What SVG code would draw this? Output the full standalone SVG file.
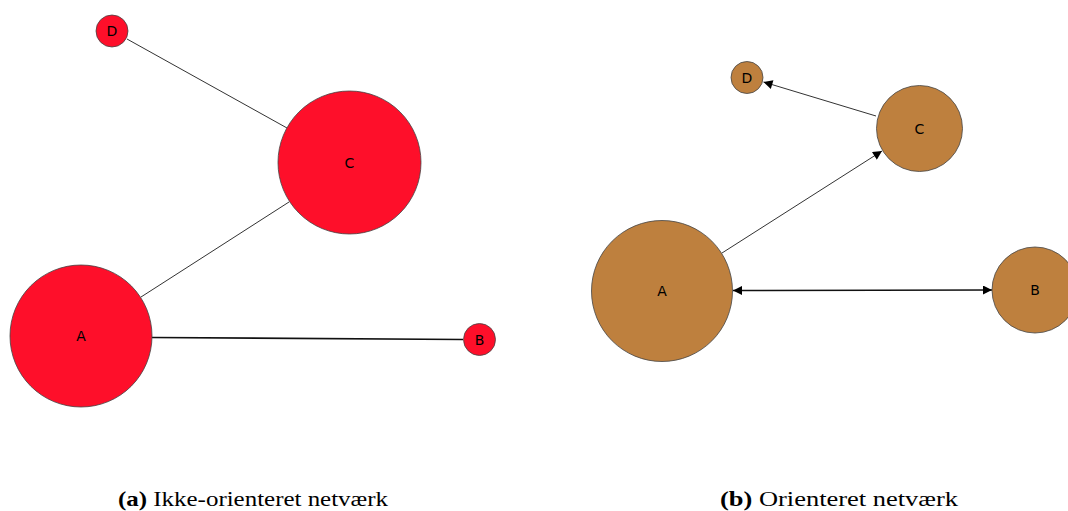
<svg xmlns="http://www.w3.org/2000/svg" width="1068" height="511" viewBox="0 0 1068 511">
  <style>
    .edge { stroke: #333; stroke-width: 1; fill: none; }
    .edge-thick { stroke: #111; stroke-width: 1.6; fill: none; }
    .n-red { fill: #fe0f2a; stroke: #444; stroke-width: 0.8; }
    .n-brown { fill: #be803e; stroke: #444; stroke-width: 0.8; }
    .lbl { font-family: "DejaVu Sans", sans-serif; font-size: 14px; fill: #000; text-anchor: middle; dominant-baseline: central; }
    .cap { font-family: "Liberation Serif", "DejaVu Serif", serif; font-size: 21px; fill: #000; }
  </style>
  <defs>
    <marker id="arrow" viewBox="0 0 10 10" refX="10" refY="5" markerWidth="10" markerHeight="9" markerUnits="userSpaceOnUse" orient="auto-start-reverse">
      <path d="M0,0 L10,5 L0,10 Z" fill="#000"/>
    </marker>
  </defs>

  <!-- undirected network -->
  <g id="edges-a">
    <line class="edge" x1="127" y1="39" x2="287" y2="128"/>
    <line class="edge" x1="141" y1="297" x2="289" y2="202"/>
    <line class="edge-thick" x1="152" y1="337.5" x2="463" y2="339.5"/>
  </g>
  <g id="a-D"><circle class="n-red" cx="112" cy="31" r="16"/><text class="lbl" x="112" y="31">D</text></g>
  <g id="a-C"><circle class="n-red" cx="349.5" cy="162.5" r="71.5"/><text class="lbl" x="349.5" y="162.5">C</text></g>
  <g id="a-A"><circle class="n-red" cx="81" cy="336" r="71"/><text class="lbl" x="81" y="336">A</text></g>
  <g id="a-B"><circle class="n-red" cx="479.5" cy="339.5" r="16"/><text class="lbl" x="479.5" y="339.5">B</text></g>

  <!-- directed network -->
  <g id="edges-b">
    <line class="edge" x1="876" y1="116" x2="763.5" y2="82" marker-end="url(#arrow)"/>
    <line class="edge" x1="722" y1="253" x2="882" y2="151" marker-end="url(#arrow)"/>
    <line class="edge-thick" x1="733" y1="290.5" x2="992" y2="290" marker-start="url(#arrow)" marker-end="url(#arrow)"/>
  </g>
  <g id="b-D"><circle class="n-brown" cx="747" cy="77.5" r="16"/><text class="lbl" x="747" y="77.5">D</text></g>
  <g id="b-C"><circle class="n-brown" cx="919.5" cy="128.5" r="43"/><text class="lbl" x="919.5" y="128.5">C</text></g>
  <g id="b-A"><circle class="n-brown" cx="662" cy="291" r="70.5"/><text class="lbl" x="662" y="291">A</text></g>
  <g id="b-B"><circle class="n-brown" cx="1035" cy="290" r="43"/><text class="lbl" x="1035" y="290">B</text></g>

  <!-- captions -->
  <text class="cap" x="118" y="506" textLength="270" lengthAdjust="spacingAndGlyphs"><tspan font-weight="bold">(a)</tspan> Ikke-orienteret netværk</text>
  <text class="cap" x="720" y="506" textLength="238" lengthAdjust="spacingAndGlyphs"><tspan font-weight="bold">(b)</tspan> Orienteret netværk</text>
</svg>
